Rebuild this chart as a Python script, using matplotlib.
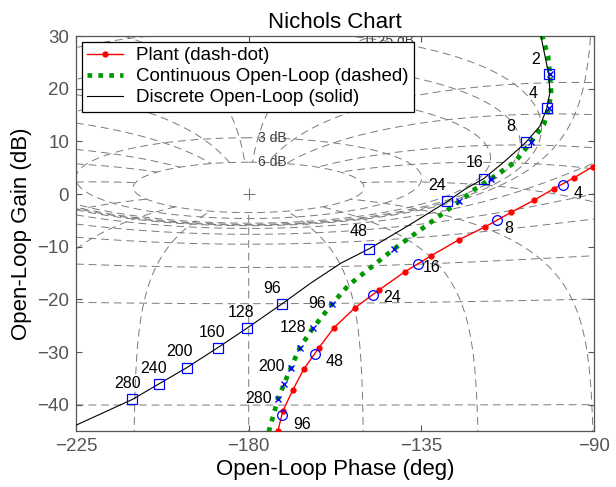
import numpy as np
import matplotlib
matplotlib.use('Agg')
import matplotlib.pyplot as plt

plt.rcParams['font.family'] = ['Liberation Sans', 'DejaVu Sans']

# plant response (phase deg, gain dB), sampled points
plant_phase = [-90.3, -95.2, -100.5, -105.7, -111.7, -118.3, -125.3, -132.4, -139.4,
               -146.0, -152.3, -157.8, -161.7, -165.6, -168.5, -171.1, -172.4]
plant_gain = [5.2, 3.1, 1.0, -1.2, -3.5, -6.2, -8.7, -11.7, -14.8,
              -18.2, -21.6, -25.4, -29.2, -33.2, -37.2, -41.2, -45.0]
plant_w = [4, 8, 16, 24, 48, 96]
plant_w_phase = [-98.1, -115.4, -136.0, -147.6, -162.6, -171.4]
plant_w_gain = [1.8, -5.0, -13.2, -19.1, -30.4, -41.9]

# continuous open loop
cont_phase = [-103.6, -102.0, -101.5, -101.2, -101.8, -103.1, -106.5, -110.7, -116.9,
              -121.1, -125.1, -135.8, -142.1, -154.1, -158.3, -163.3, -166.7, -169.0,
              -170.8, -172.4, -174.8]
cont_gain = [30.2, 26.2, 22.7, 19.3, 16.3, 13.2, 9.8, 6.0, 2.9,
             0.9, -1.4, -7.1, -10.4, -17.4, -20.9, -25.5, -29.2, -33.0,
             -36.1, -39.0, -45.2]
cont_w = [2, 4, 8, 16, 24, 48, 96, 128, 160, 200, 240, 280]
cont_w_phase = [-101.5, -101.8, -106.5, -116.9, -125.1, -142.1, -158.3, -163.3,
                -166.7, -169.0, -170.8, -172.4]
cont_w_gain = [22.7, 16.3, 9.8, 2.9, -1.4, -10.4, -20.9, -25.5, -29.2, -33.0, -36.1, -39.0]

# discrete open loop (ZOH)
disc_phase = [-103.9, -102.8, -101.8, -101.5, -102.3, -104.1, -107.8, -113.3, -118.8,
              -123.7, -128.2, -138.4, -148.6, -155.9, -163.8, -171.4, -180.5, -188.1,
              -196.2, -203.5, -210.3, -225.0]
disc_gain = [30.2, 26.2, 22.7, 19.3, 16.3, 12.9, 9.8, 6.2, 2.9,
             0.9, -1.4, -6.0, -10.4, -13.1, -16.9, -20.9, -25.5, -29.2,
             -33.0, -36.1, -39.0, -43.9]
disc_w = [2, 4, 8, 16, 24, 48, 96, 128, 160, 200, 240, 280]
disc_w_phase = [-101.8, -102.3, -107.8, -118.8, -128.2, -148.6, -171.4, -180.5,
                -188.1, -196.2, -203.5, -210.3]
disc_w_gain = [22.7, 16.3, 9.8, 2.9, -1.4, -10.4, -20.9, -25.5, -29.2, -33.0, -36.1, -39.0]

# closed-loop contours of the Nichols grid
grid_gains_db = [6, 3, 1, 0.5, 0.25, 0, -1, -3, -6, -12, -20, -40, -60]
grid_phases = [-1, -5, -10, -20, -30, -50, -90, -120, -150, -180, -210, -240,
               -270, -310, -330, -340, -350, -355, -359]
gain_labels = {6: (-177.5, 6.0), 3: (-177.5, 10.7), 0.25: (-149.5, 29.0)}

GRID = dict(color='#7a7a7a', lw=0.7, ls=(0, (8, 5)), zorder=1)


def to_nichols(L):
    ph = np.mod(np.degrees(np.angle(L)), 360) - 360
    g = 20 * np.log10(np.abs(L))
    jump = np.where(np.abs(np.diff(ph)) > 180)[0] + 1
    return np.insert(ph, jump, np.nan), np.insert(g, jump, np.nan)


def nichols_grid(ax):
    psi = np.radians(np.linspace(-359.999, -0.001, 6000))
    for gdb in grid_gains_db:
        T = 10 ** (gdb / 20) * np.exp(1j * psi)
        ax.plot(*to_nichols(T / (1 - T)), **GRID)
    # phase contours stop at the 6 dB closed-loop contour
    mag = np.logspace(-5, np.log10(2.0), 20000)
    for p in grid_phases:
        T = mag * np.exp(1j * np.radians(p))
        ax.plot(*to_nichols(T / (1 - T)), **GRID)
    for gdb, (x, y) in gain_labels.items():
        ax.text(x, y, f'{gdb:g} dB', fontsize=10, color='#404040',
                ha='left', va='center', clip_on=True, zorder=2)
    ax.plot(-180, 0, '+', color='#7a7a7a', ms=9, mew=0.8, zorder=2)


def freq_labels(ax, ws, xs, ys, offsets, ha='center'):
    for w, x, y, off in zip(ws, xs, ys, offsets):
        ax.annotate(str(w), (x, y), xytext=off, textcoords='offset points',
                    ha=ha, va='center', fontsize=11.5, zorder=5)


fig = plt.figure(figsize=(6.16, 4.87), dpi=100)
ax = fig.add_axes([0.1234, 0.115, 0.841, 0.811])

nichols_grid(ax)

ax.plot(plant_phase, plant_gain, '-', color='red', lw=1.0, marker='.', ms=7,
        label='Plant (dash-dot)', zorder=3)
ax.plot(cont_phase, cont_gain, color='#009900', lw=3.4, ls=(0, (1, 1.3)),
        label='Continuous Open-Loop (dashed)', zorder=3)
ax.plot(disc_phase, disc_gain, color='black', lw=0.8,
        label='Discrete Open-Loop (solid)', zorder=3)

ax.plot(plant_w_phase, plant_w_gain, 'o', mfc='none', mec='blue', ms=7, mew=0.9, zorder=4)
ax.plot(cont_w_phase, cont_w_gain, 'x', color='blue', ms=5, mew=1.0, zorder=4)
ax.plot(disc_w_phase, disc_w_gain, 's', mfc='none', mec='blue', ms=7, mew=0.9, zorder=4)

# frequency (rad/s) annotations
px = 0.72
disc_off = [(-13, 15), (-14, 15), (-15, 16), (-9, 16), (-10, 16), (-11, 17),
            (-10, 16), (-6, 16), (-6, 15), (-7, 16), (-5, 16), (-5, 16)]
freq_labels(ax, disc_w, disc_w_phase, disc_w_gain,
            [(dx * px, dy * px) for dx, dy in disc_off])
cont_idx = [6, 7, 9, 11]
freq_labels(ax, [cont_w[i] for i in cont_idx], [cont_w_phase[i] for i in cont_idx],
            [cont_w_gain[i] for i in cont_idx], [(-6 * px, 1 * px)] * 4, ha='right')
plant_off = [(11, -9), (8, -8), (5, -4), (10, -3), (10, -7), (12, -10)]
freq_labels(ax, plant_w, plant_w_phase, plant_w_gain,
            [(dx * px, dy * px) for dx, dy in plant_off], ha='left')

ax.set_xlim(-225, -90)
ax.set_ylim(-45, 30)
ax.set_xticks([-225, -180, -135, -90])
ax.set_yticks([-40, -30, -20, -10, 0, 10, 20, 30])
ax.tick_params(direction='in', top=True, right=True, length=4, width=0.8,
               labelsize=13.5, colors='#555555', labelcolor='#555555', pad=5)
for s in ax.spines.values():
    s.set_color('#555555')
    s.set_linewidth(0.9)

ax.set_title('Nichols Chart', fontsize=16, pad=6)
ax.set_xlabel('Open-Loop Phase (deg)', fontsize=16, labelpad=3)
ax.set_ylabel('Open-Loop Gain (dB)', fontsize=16, labelpad=4)

leg = ax.legend(loc='upper left', fontsize=13.5, fancybox=False, framealpha=1,
                edgecolor='black', borderaxespad=0.3, handlelength=1.9,
                handletextpad=0.7, labelspacing=0.2, borderpad=0.3)
leg.get_frame().set_linewidth(0.9)
leg.set_zorder(10)

fig.savefig('out.png', dpi=100)
